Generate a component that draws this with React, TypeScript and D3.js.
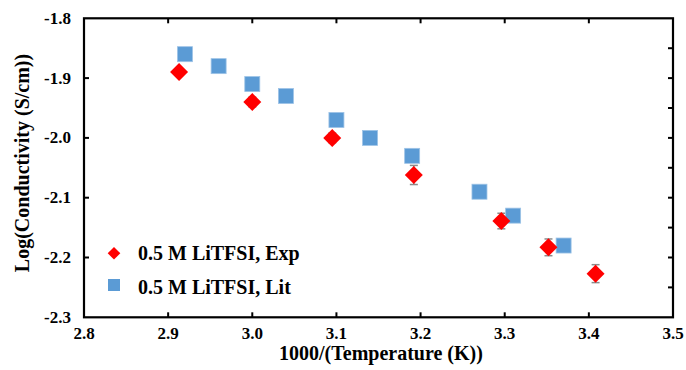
import React from "react";
import * as d3 from "d3";

const expX = [2.913, 3.0, 3.095, 3.192, 3.296, 3.352, 3.408];
const expY = [-1.89, -1.94, -2.0, -2.062, -2.139, -2.183, -2.227];
const expErr = [0.006, 0.008, 0.008, 0.016, 0.013, 0.014, 0.015];
const litX = [2.92, 2.96, 3.0, 3.04, 3.1, 3.14, 3.19, 3.27, 3.31, 3.37];
const litY = [-1.86, -1.88, -1.91, -1.93, -1.97, -2.0, -2.03, -2.09, -2.13, -2.18];
const xTicks = [2.8, 2.9, 3.0, 3.1, 3.2, 3.3, 3.4, 3.5];
const yTicks = [-1.8, -1.9, -2.0, -2.1, -2.2, -2.3];
const yMinorRight = [-1.8, -1.85, -1.9, -1.95, -2.0, -2.05, -2.1, -2.15, -2.2, -2.25, -2.3];
const seriesNames = ["0.5 M LiTFSI, Exp", "0.5 M LiTFSI, Lit"];
const xTitle = "1000/(Temperature (K))";
const yTitle = "Log(Conductivity (S/cm))";

const W = 686;
const H = 370;
const L = 84;
const R = 673;
const T = 18.3;
const B = 317.3;
const FONT = "'Liberation Serif', 'Times New Roman', serif";
const RED = "#FF0000";
const BLUE = "#5B9BD5";

export default function App() {
  const x = d3.scaleLinear().domain([2.8, 3.5]).range([L, R]);
  const y = d3.scaleLinear().domain([-2.3, -1.8]).range([B, T]);
  const diamond = (cx: number, cy: number, r: number) =>
    `M${cx},${cy - r}L${cx + r},${cy}L${cx},${cy + r}L${cx - r},${cy}Z`;
  const tk = 5;
  const sq = 15;

  return (
    <svg
      width={W}
      height={H}
      style={{ position: "fixed", left: 0, top: 0, background: "#fff" }}
      fontFamily={FONT}
      fontWeight="bold"
    >
      <rect x={0} y={0} width={W} height={H} fill="#fff" />
      {/* ticks */}
      {xTicks.slice(1, -1).map((t) => (
        <g key={"xt" + t}>
          <line x1={x(t)} x2={x(t)} y1={B} y2={B - tk} stroke="#000" strokeWidth={2} />
          <line x1={x(t)} x2={x(t)} y1={T} y2={T + tk} stroke="#000" strokeWidth={2} />
        </g>
      ))}
      {yTicks.slice(1, -1).map((t) => (
        <line key={"yt" + t} x1={L} x2={L + tk} y1={y(t)} y2={y(t)} stroke="#000" strokeWidth={2} />
      ))}
      {yMinorRight.slice(1, -1).map((t) => (
        <line key={"yr" + t} x1={R} x2={R - tk} y1={y(t)} y2={y(t)} stroke="#000" strokeWidth={2} />
      ))}
      <rect x={L} y={T} width={R - L} height={B - T} fill="none" stroke="#000" strokeWidth={2.2} />
      {/* tick labels */}
      {xTicks.map((t) => (
        <text key={"xl" + t} x={x(t)} y={339} textAnchor="middle" fontSize={17}>
          {t.toFixed(1)}
        </text>
      ))}
      {yTicks.map((t) => (
        <text key={"yl" + t} x={71} y={y(t) + 5.5} textAnchor="end" fontSize={17}>
          {t.toFixed(1)}
        </text>
      ))}
      {/* titles */}
      <text x={381} y={360} textAnchor="middle" fontSize={20}>
        {xTitle}
      </text>
      <text transform={`translate(28.5,163) rotate(-90)`} textAnchor="middle" fontSize={20}>
        {yTitle}
      </text>
      {/* error bars */}
      {expX.map((v, i) => (
        <g key={"eb" + i} stroke="#8c8c8c" strokeWidth={1.5}>
          <line x1={x(v)} x2={x(v)} y1={y(expY[i] - expErr[i])} y2={y(expY[i] + expErr[i])} />
          <line x1={x(v) - 4} x2={x(v) + 4} y1={y(expY[i] - expErr[i])} y2={y(expY[i] - expErr[i])} />
          <line x1={x(v) - 4} x2={x(v) + 4} y1={y(expY[i] + expErr[i])} y2={y(expY[i] + expErr[i])} />
        </g>
      ))}
      {/* lit squares */}
      {litX.map((v, i) => (
        <rect
          key={"lit" + i}
          x={x(v) - sq / 2}
          y={y(litY[i]) - sq / 2}
          width={sq}
          height={sq}
          fill={BLUE}
          stroke="#9dc3e6"
          strokeWidth={0.8}
        />
      ))}
      {/* exp diamonds */}
      {expX.map((v, i) => (
        <path key={"exp" + i} d={diamond(x(v), y(expY[i]), 9)} fill={RED} />
      ))}
      {/* legend */}
      <path d={diamond(114, 253.3, 6.3)} fill={RED} />
      <text x={138} y={259.5} fontSize={20}>
        {seriesNames[0]}
      </text>
      <rect x={108} y={279} width={12} height={12} fill={BLUE} />
      <text x={138} y={293.5} fontSize={20}>
        {seriesNames[1]}
      </text>
    </svg>
  );
}
